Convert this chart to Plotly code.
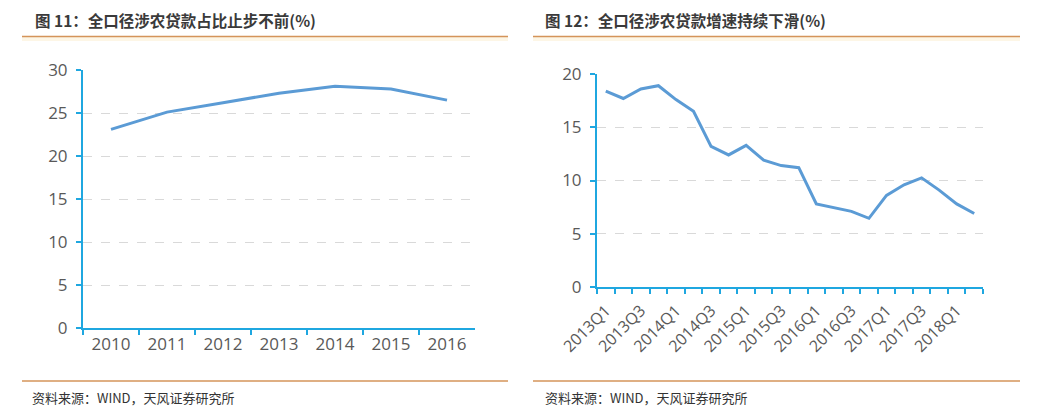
import plotly.graph_objects as go

years = ["2010", "2011", "2012", "2013", "2014", "2015", "2016"]
share = [23.1, 25.1, 26.2, 27.3, 28.1, 27.8, 26.5]

quarters = ["2013Q1", "2013Q2", "2013Q3", "2013Q4",
            "2014Q1", "2014Q2", "2014Q3", "2014Q4",
            "2015Q1", "2015Q2", "2015Q3", "2015Q4",
            "2016Q1", "2016Q2", "2016Q3", "2016Q4",
            "2017Q1", "2017Q2", "2017Q3", "2017Q4",
            "2018Q1", "2018Q2"]
growth = [18.4, 17.7, 18.6, 18.9,
          17.6, 16.5, 13.2, 12.4,
          13.3, 11.9, 11.4, 11.2,
          7.8, 7.45, 7.1, 6.45,
          8.6, 9.6, 10.25, 9.1,
          7.8, 6.9]

title_left = "图 11：全口径涉农贷款占比止步不前(%)"
title_right = "图 12：全口径涉农贷款增速持续下滑(%)"
source = "资料来源：WIND，天风证券研究所"

OFF = 8  # page body margin
W, H = 1058 - OFF, 411 - OFF
def fx(px): return (px - OFF) / W
def fy(py): return 1 - (py - OFF) / H

LINE = "#5b9bd5"
AXIS = "#1fa7e0"
GRID = "#d9d9d9"
TICK = "#595959"
ORANGE = "#d4945a"
FONT = "Open Sans"

fig = go.Figure()
fig.add_trace(go.Scatter(x=years, y=share, mode="lines",
                         line=dict(color=LINE, width=3), xaxis="x", yaxis="y"))
qidx = list(range(len(quarters)))
fig.add_trace(go.Scatter(x=qidx, y=growth, mode="lines",
                         line=dict(color=LINE, width=3), xaxis="x2", yaxis="y2"))

common_y = dict(showline=True, linecolor=AXIS, linewidth=2, ticks="outside",
                tickcolor=AXIS, ticklen=5, tickwidth=1.5, showgrid=True,
                gridcolor=GRID, griddash="dash", gridwidth=1, zeroline=False,
                automargin=False, ticklabelstandoff=5,
                tickfont=dict(family=FONT, size=17, color=TICK))

fig.update_layout(
    width=W, height=H, margin=dict(l=0, r=0, t=0, b=0, pad=0), autosize=False,
    paper_bgcolor="white", plot_bgcolor="white", showlegend=False,
    xaxis=dict(domain=[fx(83), fx(475)], anchor="y", type="category",
               range=[-0.5, len(years) - 0.5], tickson="boundaries",
               showline=True, linecolor=AXIS, linewidth=2, ticks="outside",
               tickcolor=AXIS, ticklen=5, tickwidth=1.5, showgrid=False,
               automargin=False,
               tickfont=dict(family=FONT, size=17, color=TICK)),
    yaxis=dict(domain=[fy(328), fy(70)], anchor="x", range=[0, 30], dtick=5,
               **common_y),
    xaxis2=dict(domain=[fx(597), fx(983)], anchor="y2",
                range=[-0.5, len(quarters) - 0.5],
                tickvals=qidx[::2], ticktext=quarters[::2], ticks="",
                tickangle=-45, showline=True, linecolor=AXIS, linewidth=2,
                showgrid=False, zeroline=False, automargin=False,
                ticklabelstandoff=6,
                tickfont=dict(family=FONT, size=16, color=TICK),
                minor=dict(tickvals=[i - 0.5 for i in range(len(quarters) + 1)],
                           ticks="outside", ticklen=5, tickwidth=1.5,
                           tickcolor=AXIS, showgrid=False)),
    yaxis2=dict(domain=[fy(287), fy(74)], anchor="x2", range=[0, 20], dtick=5,
                **common_y),
)

shapes = []
for x0, x1 in [(22, 508), (533, 1020)]:
    shapes.append(dict(type="rect", xref="paper", yref="paper",
                       x0=fx(x0), x1=fx(x1), y0=fy(41), y1=fy(37),
                       fillcolor="#fdf6e6", line=dict(width=0), layer="below"))
    shapes.append(dict(type="line", xref="paper", yref="paper",
                       x0=fx(x0), x1=fx(x1), y0=fy(36.5), y1=fy(36.5),
                       line=dict(color=ORANGE, width=1.5)))
    shapes.append(dict(type="line", xref="paper", yref="paper",
                       x0=fx(x0), x1=fx(x1), y0=fy(381), y1=fy(381),
                       line=dict(color=ORANGE, width=1.5)))
fig.update_layout(shapes=shapes)

ann = []
for x, t in [(33, title_left), (543, title_right)]:
    ann.append(dict(text="<b>" + t + "</b>", x=fx(x), y=fy(20), xref="paper",
                    yref="paper", xanchor="left", yanchor="middle",
                    showarrow=False,
                    font=dict(family="Noto Sans CJK SC", size=15.5, color="#3a3a3a")))
for x in [30, 543]:
    ann.append(dict(text=source, x=fx(x), y=fy(397), xref="paper", yref="paper",
                    xanchor="left", yanchor="middle", showarrow=False,
                    font=dict(family="Noto Sans CJK SC", size=13, color="#333333")))
fig.update_layout(annotations=ann)

fig.write_html("out.html")
